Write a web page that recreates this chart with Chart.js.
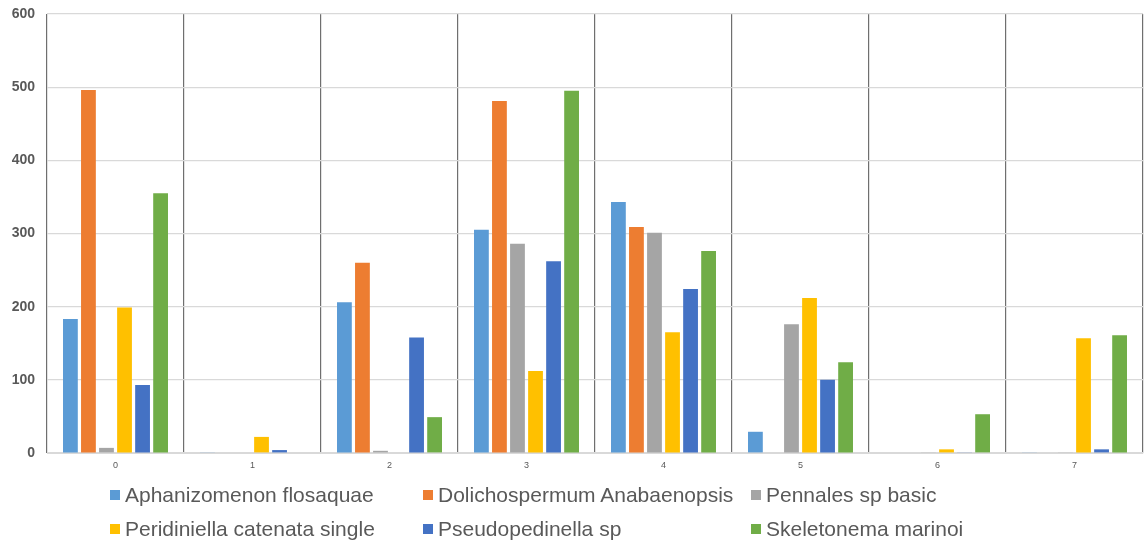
<!DOCTYPE html>
<html>
<head>
<meta charset="utf-8">
<script src="https://cdn.jsdelivr.net/npm/chart.js@4"></script>
<style>
  html, body { margin: 0; padding: 0; background: #fff; }
  #wrap { position: relative; width: 1145px; height: 541px; }
  #legend {
    position: absolute; left: 110px; top: 483px;
    display: grid; grid-template-columns: 313px 328px auto; row-gap: 10px;
    font-family: "Liberation Sans Narrow", "Liberation Sans", sans-serif;
    font-size: 21px; color: #595959;
  }
  .item { display: flex; align-items: center; white-space: nowrap; height: 24px; }
  .box { width: 10px; height: 10px; margin-right: 5px; flex: none; }
</style>
</head>
<body>
<div id="wrap">
  <canvas id="c" width="1145" height="541"></canvas>
  <div id="legend"></div>
</div>
<script>
const categories = ["0", "1", "2", "3", "4", "5", "6", "7"];
const seriesNames = [
  "Aphanizomenon flosaquae",
  "Dolichospermum Anabaenopsis",
  "Pennales sp basic",
  "Peridiniella catenata single",
  "Pseudopedinella sp",
  "Skeletonema marinoi"
];
const aphanizomenon = [183, 1, 206, 305, 343, 29, 0, 1];
const dolichospermum = [496, 0, 260, 481, 309, 0, 0, 0];
const pennales = [7, 0, 3, 286, 301, 176, 1, 1];
const peridiniella = [199, 22, 0, 112, 165, 212, 5, 157];
const pseudopedinella = [93, 4, 158, 262, 224, 100, 1, 5];
const skeletonema = [355, 0, 49, 495, 276, 124, 53, 161];
const yTicks = [0, 100, 200, 300, 400, 500, 600];

const seriesValues = [aphanizomenon, dolichospermum, pennales, peridiniella, pseudopedinella, skeletonema];
const colors = ["#5B9BD5", "#ED7D31", "#A5A5A5", "#FFC000", "#4472C4", "#70AD47"];

const chart = new Chart(document.getElementById("c"), {
  type: "bar",
  data: {
    labels: categories,
    datasets: seriesNames.map((name, i) => ({
      label: name,
      data: seriesValues[i],
      backgroundColor: colors[i],
      borderWidth: 0,
      categoryPercentage: 0.79,
      barPercentage: 0.82
    }))
  },
  options: {
    responsive: false,
    animation: false,
    layout: { padding: { top: 0, right: 2, left: 0, bottom: 0 } },
    plugins: { legend: { display: false }, tooltip: { enabled: false } },
    scales: {
      x: {
        grid: { offset: true, color: "#6f6f6f", lineWidth: 1.2, drawTicks: false },
        border: { display: true, color: "#d9d9d9" },
        ticks: { color: "#595959", font: { family: "Liberation Sans", size: 9 }, padding: 7 },
        afterFit: (s) => { s.height = 88; }
      },
      y: {
        min: 0, max: 600,
        afterBuildTicks: (s) => { s.ticks = yTicks.map(v => ({ value: v })); },
        grid: { color: "#d9d9d9", lineWidth: 1.2, drawTicks: false },
        border: { display: false },
        ticks: { color: "#595959", font: { family: "Liberation Sans", size: 14, weight: "bold", lineHeight: 1 }, padding: 12 },
        afterFit: (s) => { s.width = 47; s.paddingTop = 14; }
      }
    }
  }
});

// Legend laid out in aligned columns below the plot
const legend = document.getElementById("legend");
chart.data.datasets.forEach((ds) => {
  const item = document.createElement("div");
  item.className = "item";
  const box = document.createElement("span");
  box.className = "box";
  box.style.background = ds.backgroundColor;
  const text = document.createElement("span");
  text.textContent = ds.label;
  item.appendChild(box);
  item.appendChild(text);
  legend.appendChild(item);
});
</script>
</body>
</html>
